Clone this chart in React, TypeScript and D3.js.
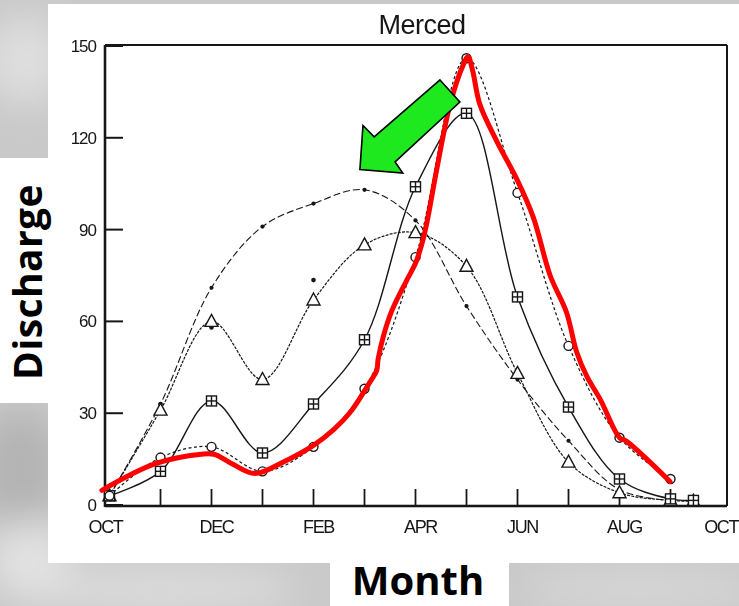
import * as d3 from "d3";

// month positions (0 = OCT), last one is the extra late-Sept reading
const monthPos = [0, 1, 2, 3, 4, 5, 6, 7, 8, 9, 10, 11, 11.45];

const circleFlow = [3, 15.5, 19, 11, 19, 38, 81, 146, 102, 52, 22, 8.5, null];
const squareFlow = [3, 11, 34, 17, 33, 54, 104, 128, 68, 32, 8.5, 2, 1.5];
const triangleFlow = [3, 31, 60, 41, 67, 85, 89, 78, 43, 14, 4, 1.5, 1.2];
const dashFlow = [3, 33, 71, 91, 98.5, 103, 93, 65, 41, 21, 5, 1.5, null];
const dotFlow = [null, 33, 58, null, 73.5, 84, null, null, null, null, null, null, null];

// hand drawn red trace: [month, discharge]
const redTrace: [number, number][] = [
  [-0.15, 4.8], [0.9, 13.5], [1.8, 16.6], [2.05, 16.6], [2.4, 13.5], [2.85, 10.3],
  [3.4, 14], [4.0, 19.5], [4.4, 24.7], [4.72, 30.3], [5.1, 40], [5.24, 44], [5.27, 48],
  [5.5, 62], [5.83, 73.5], [6.0, 79], [6.12, 85], [6.22, 92], [6.42, 110], [6.68, 131],
  [6.94, 144], [7.03, 146.5], [7.12, 142], [7.26, 131], [7.59, 119], [8.0, 106],
  [8.31, 94], [8.64, 75], [8.96, 63], [9.16, 50], [9.36, 42], [9.62, 34.6],
  [10.0, 22], [10.14, 20.8], [10.99, 7.7],
];

// green arrow outline in data space
const arrowShape: [number, number][] = [
  [6.48, 138.9], [6.87, 131.7], [5.6, 112.1], [5.75, 108.5], [4.91, 109.6], [4.97, 124], [5.19, 120.3],
];

const yTicks = [0, 30, 60, 90, 120, 150];
const xTicks = [1, 2, 3, 4, 5, 6, 7, 8, 9, 10, 11];
const xLabels = ["OCT", "DEC", "FEB", "APR", "JUN", "AUG", "OCT"];
const xLabelPos = [0, 2, 4, 6, 8, 10, 12];

type Pt = { m: number; v: number | null };
const toPts = (vals: (number | null)[]): Pt[] => vals.map((v, i) => ({ m: monthPos[i], v }));

export default function App() {
  const x = d3.scaleLinear().domain([0, 12]).range([109.5, 721.5]);
  const y = d3.scaleLinear().domain([0, 150]).range([505, 46]);

  const line = d3
    .line<Pt>()
    .defined((d) => d.v != null)
    .x((d) => x(d.m))
    .y((d) => y(d.v as number))
    .curve(d3.curveCatmullRom.alpha(0.5));

  const redLine = d3
    .line<[number, number]>()
    .x((d) => x(d[0]))
    .y((d) => y(d[1]))
    .curve(d3.curveCatmullRom.alpha(0.5));

  const arrowPath = d3.line<[number, number]>().x((d) => x(d[0])).y((d) => y(d[1]))(arrowShape) + "Z";

  const ink = "#161616";
  const series = [
    { key: "dash", pts: toPts(dashFlow), dash: "7 3", w: 1.1 },
    { key: "tri", pts: toPts(triangleFlow), dash: "3 1.2", w: 1.2 },
    { key: "sq", pts: toPts(squareFlow), dash: null, w: 1.4 },
    { key: "circ", pts: toPts(circleFlow), dash: "3 2.5", w: 1.2 },
  ];

  const frame = { l: 105, r: 727, t: 45, b: 506 };

  return (
    <svg width={739} height={606} style={{ position: "absolute", left: 0, top: 0 }}>
      <defs>
        <filter id="soft" x="-20%" y="-20%" width="140%" height="140%">
          <feGaussianBlur stdDeviation="18" />
        </filter>
        <filter id="scan">
          <feGaussianBlur stdDeviation="0.35" />
        </filter>
      </defs>

      {/* textured grey backdrop */}
      <rect x={0} y={0} width={739} height={606} fill="#c9c9c9" />
      <g filter="url(#soft)">
        <ellipse cx={25} cy={60} rx={40} ry={45} fill="#dedede" />
        <ellipse cx={20} cy={470} rx={45} ry={60} fill="#b4b4b4" />
        <ellipse cx={160} cy={590} rx={140} ry={25} fill="#dadada" />
        <ellipse cx={640} cy={590} rx={120} ry={22} fill="#d6d6d6" />
        <ellipse cx={30} cy={560} rx={40} ry={40} fill="#e2e2e2" />
      </g>

      {/* white panels */}
      <rect x={48} y={4} width={691} height={559} fill="#fff" />
      <rect x={0} y={158} width={48} height={245} fill="#fff" />
      <rect x={330} y={563} width={179} height={43} fill="#fff" />

      <g filter="url(#scan)">
        <text x={422} y={34} textAnchor="middle" fontFamily="Liberation Sans" fontSize={27} fill={ink} letterSpacing={-0.5}>
          Merced
        </text>

        {/* frame */}
        <line x1={frame.l} x2={frame.r} y1={frame.t} y2={frame.t} stroke={ink} strokeWidth={2} />
        <line x1={frame.r} x2={frame.r} y1={frame.t} y2={frame.b} stroke={ink} strokeWidth={2} />
        <line x1={frame.l} x2={frame.l} y1={frame.t} y2={frame.b + 1} stroke={ink} strokeWidth={2.6} />
        <line x1={frame.l} x2={frame.r} y1={frame.b} y2={frame.b} stroke={ink} strokeWidth={2.6} />

        {yTicks.map((t) => (
          <g key={t}>
            <line x1={frame.l} x2={frame.l + 18} y1={y(t)} y2={y(t)} stroke={ink} strokeWidth={2} />
            <text x={96} y={y(t)} dy="0.35em" textAnchor="end" fontFamily="Liberation Sans" fontSize={17} fill={ink} letterSpacing={-1}>
              {t}
            </text>
          </g>
        ))}

        {xTicks.map((m) => (
          <line key={m} x1={x(m)} x2={x(m)} y1={frame.b} y2={frame.b - 17} stroke={ink} strokeWidth={1.8} />
        ))}
        {xLabels.map((lab, i) => {
          const last = i === xLabels.length - 1;
          return (
            <text
              key={i}
              x={last ? 738 : x(xLabelPos[i]) + (i === 0 ? -4 : 5)}
              y={533}
              textAnchor={last ? "end" : "middle"}
              fontFamily="Liberation Sans"
              fontSize={18}
              fill={ink}
              letterSpacing={-1.4}
            >
              {lab}
            </text>
          );
        })}

        {series.map((s) => (
          <path key={s.key} d={line(s.pts) || ""} fill="none" stroke={ink} strokeWidth={s.w} strokeDasharray={s.dash || undefined} />
        ))}

        {/* markers */}
        {toPts(dashFlow).filter((d) => d.v != null).map((d, i) => (
          <circle key={"d" + i} cx={x(d.m)} cy={y(d.v as number)} r={2.1} fill={ink} />
        ))}
        {toPts(dotFlow).filter((d) => d.v != null).map((d, i) => (
          <circle key={"e" + i} cx={x(d.m)} cy={y(d.v as number)} r={2.3} fill={ink} />
        ))}
        {toPts(triangleFlow).filter((d) => d.v != null).map((d, i) => {
          const cx = x(d.m), cy = y(d.v as number);
          return <path key={"t" + i} d={`M${cx},${cy - 7}L${cx + 6.5},${cy + 5}L${cx - 6.5},${cy + 5}Z`} fill="#fff" stroke={ink} strokeWidth={1.4} />;
        })}
        {toPts(squareFlow).filter((d) => d.v != null).map((d, i) => {
          const cx = x(d.m), cy = y(d.v as number);
          return (
            <g key={"s" + i} stroke={ink} strokeWidth={1.4} fill="#fff">
              <rect x={cx - 5} y={cy - 5} width={10} height={10} />
              <line x1={cx} x2={cx} y1={cy - 5} y2={cy + 5} />
              <line x1={cx - 5} x2={cx + 5} y1={cy} y2={cy} />
            </g>
          );
        })}
        {toPts(circleFlow).filter((d) => d.v != null).map((d, i) => (
          <circle key={"c" + i} cx={x(d.m)} cy={y(d.v as number)} r={4.5} fill="#fff" stroke={ink} strokeWidth={1.4} />
        ))}
      </g>

      {/* annotations */}
      <path d={redLine(redTrace) || ""} fill="none" stroke="#ff0000" strokeWidth={5} strokeLinejoin="round" strokeLinecap="round" />
      <path d={arrowPath} fill="#1ee81e" stroke="#000" strokeWidth={1.6} strokeLinejoin="miter" />

      <text transform="translate(42,282) rotate(-90)" textAnchor="middle" fontFamily="Open Sans" fontWeight={700} fontSize={39} letterSpacing={0.4} fill="#000">
        Discharge
      </text>
      <text x={418} y={595} textAnchor="middle" fontFamily="Open Sans" fontWeight={700} fontSize={40} fill="#000">
        Month
      </text>
    </svg>
  );
}
